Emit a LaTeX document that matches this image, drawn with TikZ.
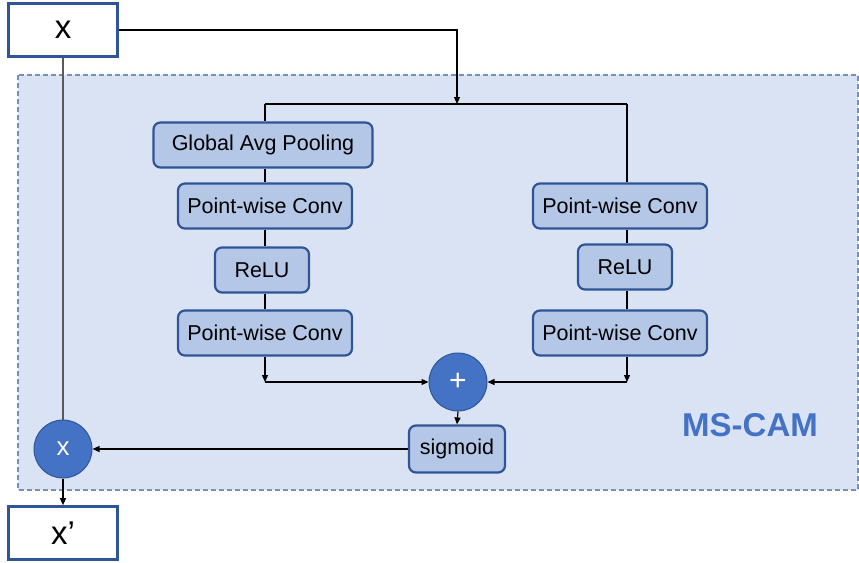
\documentclass[tikz,border=0pt]{standalone}
\usepackage{fontspec}
\setmainfont{Liberation Sans}
\usetikzlibrary{arrows.meta,positioning}
\definecolor{PanelBlue}{RGB}{218,227,243}
\definecolor{BoxBlue}{RGB}{180,199,231}
\definecolor{EdgeBlue}{RGB}{47,85,151}
\definecolor{DotBlue}{RGB}{68,114,196}
\definecolor{DashBlue}{RGB}{118,143,190}

\begin{document}
\begin{tikzpicture}[x=1pt, y=-1pt,
    layer/.style={draw=EdgeBlue, line width=2.2pt, fill=BoxBlue, rounded corners=7pt,
      minimum height=45pt, inner sep=0pt, font=\fontsize{21.5}{25}\selectfont},
    tensor/.style={draw=EdgeBlue, line width=2.6pt, fill=white, minimum width=109pt,
      minimum height=53pt, inner sep=0pt, font=\fontsize{33}{37}\selectfont},
    op/.style={circle, draw=EdgeBlue, line width=1pt, fill=DotBlue, minimum size=58pt,
      inner sep=0pt, text=white},
    link/.style={line width=1.2pt},
    flow/.style={link, -{Triangle[length=7pt,width=6pt]}}]
    \useasboundingbox (0,0) rectangle (859,562);
    % attention block
    \draw[draw=DashBlue, fill=PanelBlue, line width=1.2pt, dash pattern=on 5pt off 3pt]
      (18,75) rectangle (858,490);
    \node[font=\bfseries\fontsize{33}{38}\selectfont, text=DotBlue] (title) at (750,425) {MS-CAM};
    % input / output
    \node[tensor] (inp) at (63,30) {x};
    \node[tensor] (out) at (63,533) {x’};
    % global branch
    \node[layer, minimum width=219pt] (gap) at (263,145) {Global Avg Pooling};
    \node[layer, minimum width=174pt] (pwl1) at (265,206) {Point-wise Conv};
    \node[layer, minimum width=94pt] (relul) at (262,270) {ReLU};
    \node[layer, minimum width=174pt] (pwl2) at (265,333) {Point-wise Conv};
    % local branch
    \node[layer, minimum width=174pt] (pwr1) at (620,206) {Point-wise Conv};
    \node[layer, minimum width=94pt] (relur) at (625,267) {ReLU};
    \node[layer, minimum width=174pt] (pwr2) at (620,333) {Point-wise Conv};
    % fusion
    \node[op, font=\fontsize{30}{32}\selectfont] (plus) at (458,382) {+};
    \node[layer, minimum width=96pt, minimum height=47pt] (sig) at (457,449) {sigmoid};
    \node[op, font=\fontsize{26}{30}\selectfont] (mul) at (63,449) {x};
    % connectors
    \coordinate (split) at (457,104);
    \coordinate (ltop) at (265,104);
    \coordinate (rtop) at (627,104);
    \coordinate (ljoin) at (265,382);
    \coordinate (rjoin) at (627,382);
    \draw[flow] (inp.east) -| (split);
    \draw[link] (ltop) -- (rtop);
    \draw[link] (ltop) -- (ltop |- gap.north);
    \draw[link] (ltop |- gap.south) -- (ltop |- pwl1.north);
    \draw[link] (ltop |- pwl1.south) -- (ltop |- relul.north);
    \draw[link] (ltop |- relul.south) -- (ltop |- pwl2.north);
    \draw[link] (rtop) -- (rtop |- pwr1.north);
    \draw[link] (rtop |- pwr1.south) -- (rtop |- relur.north);
    \draw[link] (rtop |- relur.south) -- (rtop |- pwr2.north);
    \draw[flow] (ljoin |- pwl2.south) -- (ljoin);
    \draw[flow] (ljoin) -- (plus.west);
    \draw[flow] (rjoin |- pwr2.south) -- (rjoin);
    \draw[flow] (rjoin) -- (plus.east);
    \draw[flow] (plus.south) -- (sig.north);
    \draw[flow] (sig.west) -- (mul.east);
    \draw[link, draw=black!65] (inp.south) -- (mul.north);
    \draw[flow] (mul.south) -- (out.north);
\end{tikzpicture}
\end{document}
